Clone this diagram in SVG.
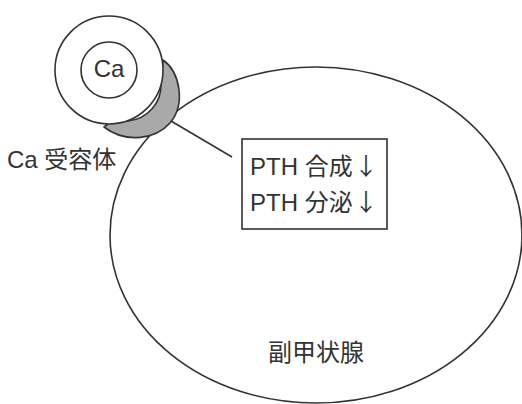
<svg xmlns="http://www.w3.org/2000/svg" width="522" height="404" viewBox="0 0 522 404">
  <style>
    .ln { fill: none; stroke: #333; stroke-width: 1.6; }
    .wh { fill: #fff; stroke: #333; stroke-width: 1.6; }
    .rc { fill: #a9a9a9; stroke: #333; stroke-width: 1.6; stroke-linejoin: round; }
    .tx { font-family: "Liberation Sans", "Noto Sans CJK JP", sans-serif; font-size: 24px; fill: #333; }
    .ar { font-family: "Noto Sans CJK JP", sans-serif; }
  </style>
  <rect width="522" height="404" fill="#fff"/>

  <!-- parathyroid gland -->
  <g id="gland">
    <ellipse class="ln" cx="316" cy="235" rx="206" ry="168"/>
    <text class="tx" x="268" y="361">副甲状腺</text>
  </g>

  <!-- Ca receptor (crescent sitting on the gland surface) -->
  <g id="receptor">
    <path class="rc" d="M 163 60 C 180 72, 186 104, 170 123 C 156 139, 126 144, 104 127 L 112 121 L 128 121 A 36 36 0 0 0 161 84 Z"/>
    <text class="tx" x="7" y="168">Ca 受容体</text>
  </g>

  <!-- extracellular Ca ion -->
  <g id="ca-ion">
    <circle class="wh" cx="109" cy="70" r="54"/>
    <circle class="wh" cx="109" cy="70" r="28"/>
    <text class="tx" x="109" y="77" text-anchor="middle">Ca</text>
  </g>

  <!-- connectors -->
  <g id="connectors">
    <line class="ln" x1="232" y1="157" x2="171" y2="121"/>
  </g>

  <!-- effect on PTH -->
  <g id="pth-box">
    <rect class="wh" x="242" y="139" width="145" height="90"/>
    <text class="tx" x="250" y="175">PTH 合成<tspan class="ar" x="354">↓</tspan></text>
    <text class="tx" x="250" y="211">PTH 分泌<tspan class="ar" x="354">↓</tspan></text>
  </g>
</svg>
